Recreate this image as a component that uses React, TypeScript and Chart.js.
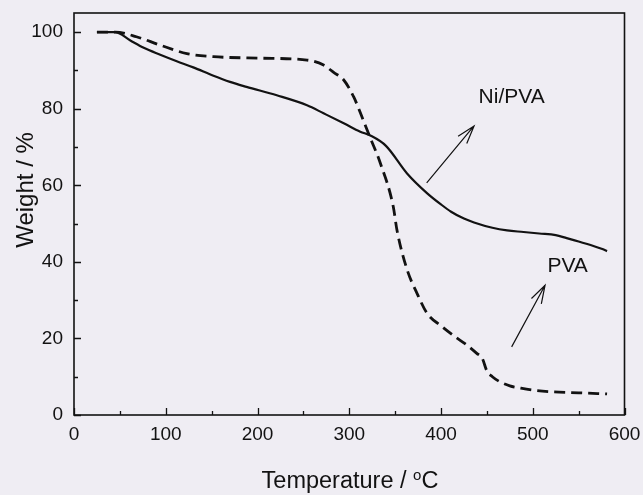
import React, { useEffect, useRef } from "react";
import { Chart, registerables } from "chart.js";

Chart.register(...registerables);

// ---- data ----
const niPvaTemp = [25, 45, 61, 76, 94, 112, 130, 152, 170, 188, 221, 254, 272, 294, 312, 323, 340, 363, 385, 400, 411, 425, 436, 456, 472, 490, 507, 525, 537, 550, 563, 575, 581];
const niPvaWeight = [100, 100, 97.9, 95.9, 94.1, 92.4, 90.8, 88.6, 87.0, 85.7, 83.5, 80.9, 78.8, 76.2, 74, 73, 70.3, 63.1, 57.9, 55, 53.1, 51.3, 50.3, 48.9, 48.2, 47.8, 47.4, 47, 46.2, 45.3, 44.4, 43.4, 42.8];

const pvaTemp = [25, 45, 68, 94, 123, 152, 203, 254, 272, 283, 294, 305, 312, 321, 334, 348, 352, 363, 374, 385, 400, 415, 428, 439, 445, 450, 456, 464, 475, 487, 500, 518, 550, 581];
const pvaWeight = [100, 100, 98.8, 96.6, 94.4, 93.6, 93.2, 92.7, 91.4, 89.5, 87.5, 83, 79, 73.5, 65.7, 54.4, 48.3, 38, 31.7, 26.5, 23.3, 20.5, 18.3, 16.1, 14.8, 11.5, 10, 8.7, 7.6, 7, 6.5, 6.1, 5.8, 5.5];

const xTickValues = [0, 100, 200, 300, 400, 500, 600];
const yTickValues = [0, 20, 40, 60, 80, 100];
const xMinorStep = 50;
const yMinorStep = 10;

const xTitle = "Temperature / ";
const xTitleSup = "o";
const xTitleUnit = "C";
const yTitle = "Weight / %";

const seriesNames = ["Ni/PVA", "PVA"];
// annotation label positions and arrows, in data units
const labelX = [477, 538];
const labelY = [83.1, 38.9];
const arrowFromX = [384.4, 477];
const arrowFromY = [60.6, 17.8];
const arrowToX = [436, 513.4];
const arrowToY = [75.5, 33.9];

const FONT = "'Liberation Sans', Arial, sans-serif";
const INK = "#121212";
const PAPER = "#efedf3";

const decorPlugin = {
  id: "decor",
  beforeDraw(chart: any) {
    const { ctx, width, height } = chart;
    ctx.save();
    ctx.fillStyle = PAPER;
    ctx.fillRect(0, 0, width, height);
    ctx.restore();
  },
  afterDraw(chart: any) {
    const { ctx, chartArea } = chart;
    const { left, right, top, bottom } = chartArea;
    const xs = chart.scales.x;
    const ys = chart.scales.y;
    ctx.save();
    ctx.strokeStyle = INK;
    ctx.lineWidth = 1.6;
    ctx.strokeRect(left, top, right - left, bottom - top);

    // inward ticks
    ctx.lineWidth = 1.3;
    ctx.beginPath();
    for (let v = xs.min; v <= xs.max; v += xMinorStep) {
      const px = Math.round(xs.getPixelForValue(v)) + 0.5;
      const len = xTickValues.includes(v) ? 7 : 4;
      ctx.moveTo(px, bottom);
      ctx.lineTo(px, bottom - len);
    }
    for (let v = 0; v <= 100; v += yMinorStep) {
      const py = Math.round(ys.getPixelForValue(v)) + 0.5;
      const len = yTickValues.includes(v) ? 7 : 4;
      ctx.moveTo(left, py);
      ctx.lineTo(left + len, py);
    }
    ctx.stroke();

    // axis titles
    ctx.fillStyle = INK;
    ctx.textBaseline = "alphabetic";
    ctx.font = `23.5px ${FONT}`;
    const mainW = ctx.measureText(xTitle).width;
    ctx.font = `15px ${FONT}`;
    const supW = ctx.measureText(xTitleSup).width;
    ctx.font = `23.5px ${FONT}`;
    const unitW = ctx.measureText(xTitleUnit).width;
    const total = mainW + supW + unitW;
    const cx = 350;
    let tx = cx - total / 2;
    const base = 488;
    ctx.textAlign = "left";
    ctx.fillText(xTitle, tx, base);
    tx += mainW;
    ctx.font = `15px ${FONT}`;
    ctx.fillText(xTitleSup, tx, base - 8);
    tx += supW;
    ctx.font = `23.5px ${FONT}`;
    ctx.fillText(xTitleUnit, tx, base);

    ctx.save();
    ctx.translate(33, 190);
    ctx.rotate(-Math.PI / 2);
    ctx.textAlign = "center";
    ctx.font = `24px ${FONT}`;
    ctx.fillText(yTitle, 0, 0);
    ctx.restore();

    // annotations
    ctx.font = `21px ${FONT}`;
    ctx.textAlign = "center";
    ctx.textBaseline = "middle";
    for (let i = 0; i < seriesNames.length; i++) {
      ctx.fillText(seriesNames[i], xs.getPixelForValue(labelX[i]), ys.getPixelForValue(labelY[i]));
      const x0 = xs.getPixelForValue(arrowFromX[i]);
      const y0 = ys.getPixelForValue(arrowFromY[i]);
      const x1 = xs.getPixelForValue(arrowToX[i]);
      const y1 = ys.getPixelForValue(arrowToY[i]);
      const ang = Math.atan2(y1 - y0, x1 - x0);
      const barb = 19;
      const spread = 0.3;
      ctx.lineWidth = 1.2;
      ctx.beginPath();
      ctx.moveTo(x0, y0);
      ctx.lineTo(x1, y1);
      ctx.moveTo(x1 - barb * Math.cos(ang - spread), y1 - barb * Math.sin(ang - spread));
      ctx.lineTo(x1, y1);
      ctx.lineTo(x1 - barb * Math.cos(ang + spread), y1 - barb * Math.sin(ang + spread));
      ctx.stroke();
    }
    ctx.restore();
  },
};

export default function App() {
  const canvasRef = useRef<HTMLCanvasElement | null>(null);

  useEffect(() => {
    if (!canvasRef.current) return;
    const toPoints = (xs: number[], ys: number[]) => xs.map((x, i) => ({ x, y: ys[i] }));
    const chart = new Chart(canvasRef.current, {
      type: "line",
      data: {
        datasets: [
          {
            label: seriesNames[0],
            data: toPoints(niPvaTemp, niPvaWeight),
            borderColor: INK,
            borderWidth: 2.2,
            pointRadius: 0,
            cubicInterpolationMode: "monotone",
            fill: false,
          },
          {
            label: seriesNames[1],
            data: toPoints(pvaTemp, pvaWeight),
            borderColor: INK,
            borderWidth: 2.8,
            borderDash: [11, 6],
            pointRadius: 0,
            cubicInterpolationMode: "monotone",
            fill: false,
          },
        ],
      },
      options: {
        animation: false,
        responsive: true,
        maintainAspectRatio: false,
        devicePixelRatio: 1,
        layout: { padding: { top: 13, right: 18.5, left: 0, bottom: 0 } },
        plugins: { legend: { display: false }, tooltip: { enabled: false }, title: { display: false } },
        scales: {
          x: {
            type: "linear",
            min: 0,
            max: 600,
            grid: { display: false, drawTicks: false },
            border: { display: false },
            ticks: {
              stepSize: 100,
              padding: 8,
              color: INK,
              font: { family: FONT, size: 19 },
              maxRotation: 0,
            },
            afterBuildTicks: (s: any) => {
              s.ticks = xTickValues.map((v) => ({ value: v }));
            },
            afterFit: (s: any) => {
              s.height = 80;
              s.paddingLeft = 0;
              s.paddingRight = 0;
            },
          },
          y: {
            type: "linear",
            min: 0,
            max: 105,
            grid: { display: false, drawTicks: false },
            border: { display: false },
            ticks: {
              stepSize: 20,
              padding: 11,
              color: INK,
              font: { family: FONT, size: 19 },
            },
            afterBuildTicks: (s: any) => {
              s.ticks = yTickValues.map((v) => ({ value: v }));
            },
            afterFit: (s: any) => {
              s.width = 74;
              s.paddingTop = 0;
              s.paddingBottom = 0;
            },
          },
        },
      },
      plugins: [decorPlugin],
    } as any);
    return () => chart.destroy();
  }, []);

  return (
    <div style={{ position: "fixed", left: 0, top: 0, width: 643, height: 495 }}>
      <canvas ref={canvasRef} />
    </div>
  );
}
